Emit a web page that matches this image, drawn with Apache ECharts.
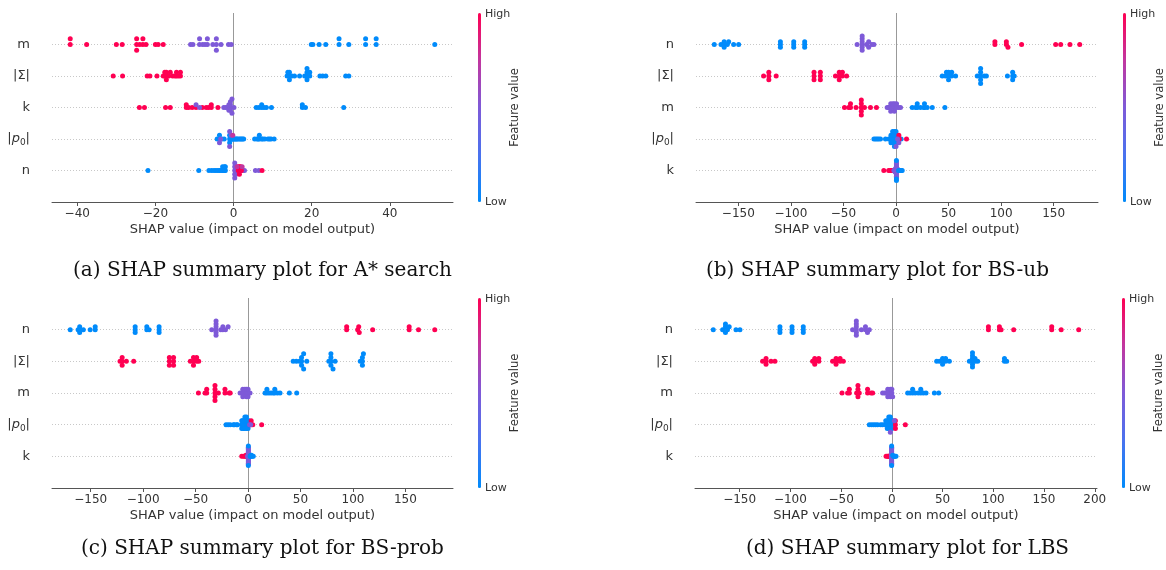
<!DOCTYPE html>
<html><head><meta charset="utf-8">
<script src="https://cdn.jsdelivr.net/npm/echarts@6/dist/echarts.min.js"></script>
<style>html,body{margin:0;padding:0;background:#fff}#c{width:1166px;height:570px}</style>
</head><body><div id="c"></div>
<script>
// helper: tag a list of SHAP values with one feature value (0 = low, 0.5 = mid, 1 = high)
function grp(f, vals) { return vals.map(v => [v, f]); }

// ---------- (a) A* search ----------
const A_features = ['m', '|Σ|', 'k', '|p0|', 'n'];
const A_ticks = [-40, -20, 0, 20, 40];
const A_m = [...grp(1, [-41.8, -41.8, -37.6, -30, -28.5, -24.8, -24.8, -24.8, -24, -23.2, -23.2, -22.4, -20, -19.3, -18]),
  ...grp(0.5, [-11, -10.4, -8.7, -8.7, -7.9, -7.3, -6.7, -6.7, -5.3, -4.4, -4.4, -4.4, -3.2, -1.3, -0.6]),
  ...grp(0, [19.9, 20.3, 21.9, 23.6, 27, 27, 29.5, 33.8, 33.8, 36.5, 36.5, 51.5])];
const A_S = [...grp(1, [-30.8, -28.4, -22.1, -21.4, -19.6, -18, -17.6, -17.6, -17.2, -17.2, -17.2, -16.6, -16.2, -15.6, -15, -14.6, -14.6, -14.1, -13.6, -13.6]),
  ...grp(0, [13.7, 13.9, 14.3, 14.3, 14.3, 14.9, 15.6, 16.9, 18.2, 18.8, 18.8, 18.8, 18.8, 19.5, 19.5, 22.1, 22.8, 23.6, 28.7, 29.5])];
const A_k = [...grp(1, [-24.1, -22.8, -17.4, -16.2, -12.1, -12.1, -11.5, -10.6, -9.6, -8, -7, -6.4, -5.7, -5.7, -4]),
  ...grp(0.5, [-9.6, -8.7, -2.5, -2, -1.6, -1.2, -1.2, -1.2, -0.8, -0.8, -0.8, -0.8, -0.4, -0.4, 0.1]),
  ...grp(0, [5.8, 6.5, 7.2, 7.2, 7.8, 8.4, 9.7, 17.6, 17.6, 18.4, 28.2])];
const A_p = [...grp(0, [-4.2, -3.6, -3.6, -3, -2.4, -1, -1, -1, -0.8, -0.6, -0.4, -0.2, 0, 0.3, 0.5, 0.8, 1, 1.4, 1.7, 2, 2.3, 2.6, 5.4, 6, 6.3, 6.6, 6.6, 7.2, 7.5, 8, 8.8, 9.2, 9.6, 10.4]),
  ...grp(0.5, [-3.6, -3.3, -1, -1, -0.6]),
  ...grp(0.75, [-0.2])];
const A_n = [...grp(0, [-21.9, -8.9, -6.3, -5.6, -5, -4.5, -4, -3.6, -3.2, -2.8, -2.8, -2.5, -2.3, -2.3, -2.1, -2.1]),
  ...grp(0.5, [0.3, 0.3, 0.3, 0.3, 0.3, 0.6, 0.6, 0.6, 1, 2.4, 2.8, 5.6, 6.5]),
  ...grp(1, [1.2, 1.2, 1.5, 1.5, 1.5, 1.8, 1.8, 2, 7.3]),
  ...grp(0.75, [0.9, 2.2])];

// ---------- (b) BS-ub ----------
const B_features = ['n', '|Σ|', 'm', '|p0|', 'k'];
const B_ticks = [-150, -100, -50, 0, 50, 100, 150];
const B_n = [...grp(0, [-172.9, -166.5, -163.5, -163.5, -163.5, -160.5, -159.2, -154.5, -149.7, -110, -110, -110, -97.3, -97.3, -97.3, -86.9, -86.9, -86.9]),
  ...grp(0.5, [-37, -32.2, -32.2, -32.2, -32.2, -32.2, -32.2, -28, -26, -26, -23, -21]),
  ...grp(1, [94.1, 94.1, 105, 105, 106.5, 119.5, 151.9, 156.7, 165.5, 174.8])];
const B_S = [...grp(1, [-126, -121, -121, -121, -114, -78, -78, -78, -72, -72, -72, -57.6, -54, -54, -54, -51, -51, -47]),
  ...grp(0, [44, 47, 48, 50, 50, 50, 53, 53, 56.7, 77.3, 80.5, 80.5, 80.5, 80.5, 80.5, 84, 86, 106, 111, 111, 111, 112.5])];
const B_m = [...grp(1, [-49, -45, -43.3, -43.3, -38, -33, -33, -33, -33, -33, -30, -24.3, -18.6]),
  ...grp(0.5, [-8.4, -7, -6.5, -5, -5, -5, -3, -3, -1.5, -1.5, -1.5, 0.5, 0.5, 2.5, 4.3]),
  ...grp(0, [15.4, 18.6, 20.2, 20.2, 23.3, 26.5, 27.1, 27.1, 29.7, 34.5, 46.5])];
const B_p = [...grp(0, [-21, -19.5, -18, -16.5, -14.8, -10, -6.9, -6, -4.8, -4.8, -4.8, -3.2, -3.2, -3.2, -3.2, -2.4, -2.4, -1.5, -1.5, -1.5, -1.5, -1.5, -0.8, 0, 0, 0, 0, 0.5, 1.1, 1.1, 2, 4.9]),
  ...grp(1, [2.4, 2.7, 2.7, 3.2, 10]),
  ...grp(0.5, [2.7, 0, 1.5])];
const B_k = [...grp(1, [-11.6, -7, -5.5, -4, -3, -2.5, -1.5, -0.9]),
  ...grp(0.5, [0.4, 0.4, 0.4, 0.4, 0.4, 0.4, 0.4, 0.4, 0.4, 0.4, 0.4, 0.4, -0.8, -0.8, -0.8, 1.5, 1.5, -2]),
  ...grp(0, [0.4, 0.4, 0.4, 2.4, 3, 4, 5, 5.9])];

// ---------- (c) BS-prob ----------
const C_features = ['n', '|Σ|', 'm', '|p0|', 'k'];
const C_ticks = [-150, -100, -50, 0, 50, 100, 150];
const C_n = [...grp(0, [-169.5, -162, -160.5, -160.5, -160.5, -157, -150.5, -145.7, -145.7, -107.6, -107.6, -107.6, -96.5, -96.5, -94.3, -84.8, -84.8, -84.8]),
  ...grp(0.5, [-34.6, -30.5, -30.5, -30.5, -30.5, -30.5, -30.5, -26, -24, -24, -21.5, -19]),
  ...grp(1, [94, 94, 104.5, 105.5, 106, 118.8, 153.6, 153.6, 162.5, 178])];
const C_S = [...grp(1, [-122, -120, -120, -120, -116, -109, -75, -75, -75, -71, -71, -71, -55, -52, -52, -52, -49, -49, -47]),
  ...grp(0, [43, 46, 49, 51, 51, 51, 53, 53, 56, 77, 79, 79, 79, 79, 81, 83, 107, 109, 109, 109, 110])];
const C_m = [...grp(1, [-47.3, -41, -39.4, -39.4, -31.5, -31.5, -31.5, -31.5, -31.5, -28.3, -22, -22, -18, -17]),
  ...grp(0.5, [-7.6, -6, -5, -5, -5, -3, -3, -1.5, -1.5, -1.5, 0, 0, 0, 1.9]),
  ...grp(0, [16.2, 18, 18, 20, 22, 24, 25.5, 25.5, 28, 30.5, 39.4, 46.4])];
const C_p = [...grp(0, [-21, -19, -17, -14, -13, -11, -10, -6, -6, -6, -5.2, -5.2, -4.5, -4.5, -4.5, -3, -3, -3, -3, -2.2, -2.2, -1.5, -1.5, -1.5, -1.5, -0.8, -0.8, 0, 0, 0, 0.3, 1, 1]),
  ...grp(1, [2, 3, 3, 4.5, 13]),
  ...grp(0.5, [1.5, 2.5])];
const C_k = [...grp(1, [-6, -4.5, -3, -2, -2, -1.2]),
  ...grp(0.5, [0.3, 0.3, 0.3, 0.3, 0.3, 0.3, 0.3, 0.3, 0.3, 0.3, 0.3, 0.3, 0.3, 0.3, 0.3, 0.3, -0.5, 1]),
  ...grp(0, [1.9, 2.5, 2.5, 3.2, 3.2, 4, 5, 0.3, 0.3])];

// ---------- (d) LBS ----------
const D_features = ['n', '|Σ|', 'm', '|p0|', 'k'];
const D_ticks = [-150, -100, -50, 0, 50, 100, 150, 200];
const D_n = [...grp(0, [-176, -166.8, -164, -164, -164, -162, -160.3, -153.6, -149.7, -110.3, -110.3, -110.3, -98.4, -98.4, -98.4, -87.3, -87.3, -87.3]),
  ...grp(0.5, [-38.7, -35, -35, -35, -35, -35, -35, -30, -26, -26, -24, -22.2]),
  ...grp(1, [95.2, 95.2, 106, 106, 107.7, 120.1, 157.6, 157.6, 166.9, 184.2])];
const D_S = [...grp(1, [-127.4, -124, -124, -124, -119.1, -115.2, -78.1, -76, -76, -76, -72, -72, -58.4, -55, -55, -55, -51, -51, -47.8]),
  ...grp(0, [44.2, 47, 50, 50, 50, 53, 53, 56.7, 76.4, 79.5, 79.5, 79.5, 79.5, 79.5, 79.5, 82, 82, 84.6, 111, 111, 113.2])];
const D_m = [...grp(1, [-49.1, -43.6, -41.9, -41.9, -34.7, -33.4, -33.4, -33.4, -33.4, -32.1, -23.9, -23.9, -20.5, -18.9]),
  ...grp(0.5, [-9.1, -7, -5.5, -4, -4, -4, -2.5, -1.5, -1.5, -1.5, -0.5, 0, 0, 0.8]),
  ...grp(0, [15.6, 18, 20.5, 20.5, 23, 26, 28.5, 28.5, 31, 33.7, 41.9, 46.2])];
const D_p = [...grp(0, [-22.2, -20, -18, -16, -14, -11, -9.1, -7, -6, -6, -5, -4.5, -4.5, -4.5, -3, -3, -3, -3, -2, -2, -1.5, -1.5, -1.5, -1.5, -0.8, 0, 0, 0, 0.8, 1, 1.5, 2.5]),
  ...grp(1, [3.5, 3.5, 3.5, 13.3]),
  ...grp(0.5, [2.5, -1.5])];
const D_k = [...grp(1, [-5.7, -4.5, -3.5, -3, -2.5, -1.5]),
  ...grp(0.5, [-0.2, -0.2, -0.2, -0.2, -0.2, -0.2, -0.2, -0.2, -0.2, -0.2, -0.2, -0.2, -0.2, -0.2, -0.2, -0.2, 0.8]),
  ...grp(0, [0.8, 1.8, 2, 2.5, 3.2, 4.1, -0.2, -0.2])];

const captions = ['(a) SHAP summary plot for A* search', '(b) SHAP summary plot for BS-ub',
                  '(c) SHAP summary plot for BS-prob', '(d) SHAP summary plot for LBS'];
const xLabel = 'SHAP value (impact on model output)';

// ---------- layout ----------
const FONT = 'DejaVu Sans';
const panels = [
  { feats: A_features, rows: [A_m, A_S, A_k, A_p, A_n], ticks: A_ticks,
    grid: { left: 52, top: 13, width: 401, height: 189 }, cbX: 478, capX: 73, capY: 271 },
  { feats: B_features, rows: [B_n, B_S, B_m, B_p, B_k], ticks: B_ticks,
    grid: { left: 696, top: 13, width: 402, height: 189 }, cbX: 1123, capX: 706, capY: 271 },
  { feats: C_features, rows: [C_n, C_S, C_m, C_p, C_k], ticks: C_ticks,
    grid: { left: 52, top: 298, width: 401, height: 190 }, cbX: 478, capX: 81, capY: 549 },
  { feats: D_features, rows: [D_n, D_S, D_m, D_p, D_k], ticks: D_ticks,
    grid: { left: 695, top: 298, width: 402, height: 190 }, cbX: 1122, capX: 746, capY: 549 }
];

// shap-style beeswarm vertical offsets
function swarm(pairs, rowY) {
  const vals = pairs.map(p => p[0]);
  const mn = Math.min(...vals), mx = Math.max(...vals);
  const nb = 100;
  const q = vals.map(v => Math.round(nb * (v - mn) / (mx - mn + 1e-8)));
  const idx = vals.map((_, i) => i).sort((a, b) => (q[a] - q[b]) || (a - b));
  const ys = new Array(vals.length).fill(0);
  let layer = 0, last = -1;
  for (const i of idx) {
    if (q[i] !== last) layer = 0;
    ys[i] = Math.ceil(layer / 2) * ((layer % 2) * 2 - 1);
    layer++; last = q[i];
  }
  const m = Math.max(...ys.map(y => y + 1));
  const s = 0.9 * (0.4 / m);
  return pairs.map((p, i) => [p[0], rowY + ys[i] * s, p[1]]);
}

const minus = v => (v < 0 ? '\u2212' + Math.abs(v) : String(v));
const COLORS = ['#008bfb', '#4a72ef', '#7e5ad8', '#c2369f', '#ff0052'];

const grids = [], xAxes = [], yAxes = [], series = [], visualMaps = [], graphics = [];
panels.forEach((p, i) => {
  grids.push(Object.assign({}, p.grid));
  let data = [];
  p.rows.forEach((row, r) => { data = data.concat(swarm(row, 4 - r)); });
  const all = data.map(d => d[0]);
  const lo = Math.min(...all), hi = Math.max(...all), sp = hi - lo;
  xAxes.push({
    gridIndex: i, type: 'value', min: lo - 0.05 * sp, max: hi + 0.05 * sp,
    splitLine: { show: false },
    axisLine: { show: true, onZero: false, lineStyle: { color: '#555', width: 1 } },
    axisTick: { show: true, length: 4, lineStyle: { color: '#555' }, customValues: p.ticks },
    axisLabel: { customValues: p.ticks, formatter: minus, fontSize: 12, color: '#333', margin: 6, fontFamily: FONT },
    name: xLabel, nameLocation: 'middle', nameGap: 21,
    nameTextStyle: { fontSize: 13, color: '#333', fontFamily: FONT }
  });
  yAxes.push({
    gridIndex: i, type: 'value', min: -1, max: 5, interval: 1,
    axisLine: { show: false, onZero: false }, axisTick: { show: false },
    axisLabel: {
      margin: 22, fontSize: 13, color: '#333', fontFamily: FONT,
      formatter: v => {
        const k = Math.round(v);
        if (k < 0 || k > 4) return '';
        const name = p.feats[4 - k];
        return name === '|p0|' ? '|{i|p}{s|0}|' : name;
      },
      rich: {
        i: { fontStyle: 'italic', fontSize: 13, color: '#333', fontFamily: FONT },
        s: { fontSize: 9, color: '#333', fontFamily: FONT, padding: [7, 0, 0, 0] }
      }
    },
    splitLine: { show: true, showMinLine: false, showMaxLine: false,
      lineStyle: { color: '#c8c8c8', type: [1, 2], width: 1 } }
  });
  series.push({
    type: 'scatter', xAxisIndex: i, yAxisIndex: i, data: data, symbolSize: 5, z: 3,
    itemStyle: { opacity: 1 }, silent: true,
    markLine: { silent: true, symbol: 'none', label: { show: false }, z: 1,
      lineStyle: { color: '#999', width: 1, type: 'solid' }, data: [{ xAxis: 0 }] }
  });
  visualMaps.push({
    type: 'continuous', seriesIndex: i, dimension: 2, min: 0, max: 1,
    show: true, calculable: false, hoverLink: false, padding: 0,
    itemWidth: 3, itemHeight: p.grid.height, left: p.cbX, top: p.grid.top,
    inRange: { color: COLORS }
  });
  const tx = p.cbX + 7;
  graphics.push({ type: 'text', x: tx, y: p.grid.top + 1, style: { text: 'High', fontSize: 11, fontFamily: FONT, fill: '#333', verticalAlign: 'middle', align: 'left' } });
  graphics.push({ type: 'text', x: tx, y: p.grid.top + p.grid.height, style: { text: 'Low', fontSize: 11, fontFamily: FONT, fill: '#333', verticalAlign: 'middle', align: 'left' } });
  graphics.push({ type: 'text', x: p.cbX + 37, y: p.grid.top + p.grid.height / 2, rotation: Math.PI / 2,
    style: { text: 'Feature value', fontSize: 11.5, fontFamily: FONT, fill: '#333', verticalAlign: 'middle', align: 'center' } });
  graphics.push({ type: 'text', x: p.capX, y: p.capY,
    style: { text: captions[i], fontSize: 20, fontFamily: 'DejaVu Serif', fill: '#111', verticalAlign: 'middle', align: 'left' } });
});

const chart = echarts.init(document.getElementById('c'), null, { renderer: 'canvas' });
chart.setOption({
  animation: false, backgroundColor: '#fff',
  grid: grids, xAxis: xAxes, yAxis: yAxes, series: series, visualMap: visualMaps, graphic: graphics
});
</script></body></html>
